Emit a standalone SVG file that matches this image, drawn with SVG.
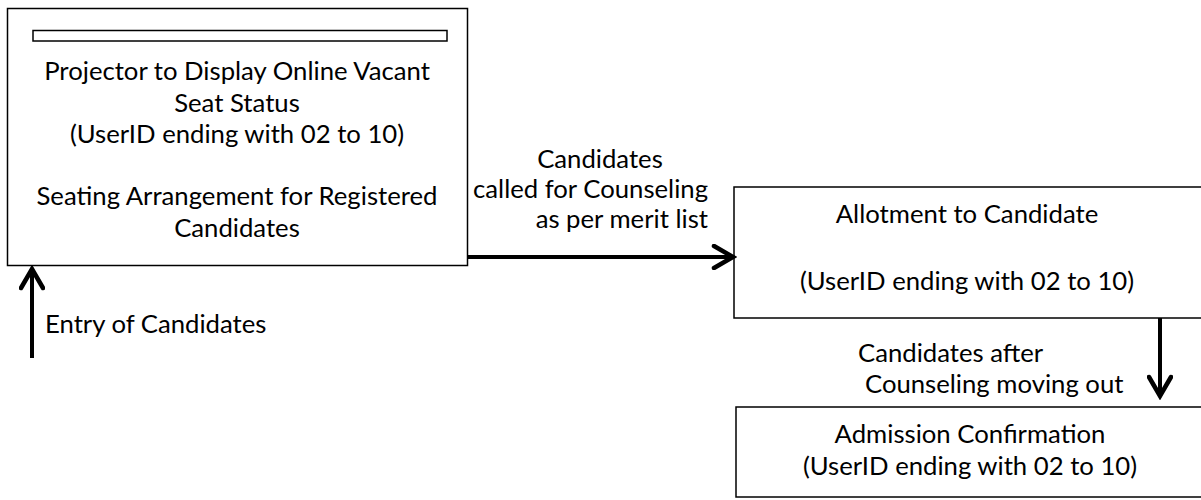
<svg xmlns="http://www.w3.org/2000/svg" width="1201" height="500" viewBox="0 0 1201 500">
<style>
.box{fill:#fff;stroke:#000;stroke-width:1.5}
.t{font-family:Lato,"Liberation Sans",sans-serif;font-size:25.7px;fill:#000}
.c{text-anchor:middle}
.e{text-anchor:end}
.conn{stroke:#000;stroke-width:4;fill:none}
</style>
<defs>
<marker id="arr" viewBox="0 0 26 26" refX="22" refY="13" markerWidth="26" markerHeight="26" orient="auto" markerUnits="userSpaceOnUse">
<path d="M3,2 L22,13 L3,24" fill="none" stroke="#000" stroke-width="4.5" stroke-linecap="round" stroke-linejoin="miter"/>
</marker>
</defs>
<rect width="1201" height="500" fill="#fff"/>
<g id="node-projector">
<rect class="box" x="7.5" y="8.5" width="460" height="257"/>
<rect class="box" x="33" y="30.5" width="414" height="10.5" stroke-width="1.2"/>
<text class="t c" x="237" y="80">Projector to Display Online Vacant</text>
<text class="t c" x="237" y="112">Seat Status</text>
<text class="t c" x="237" y="143">(UserID ending with 02 to 10)</text>
<text class="t c" x="237" y="205">Seating Arrangement for Registered</text>
<text class="t c" x="237" y="237">Candidates</text>
</g>
<g id="node-allotment">
<rect class="box" x="734" y="187" width="470" height="131"/>
<text class="t c" x="967" y="223">Allotment to Candidate</text>
<text class="t c" x="967" y="290">(UserID ending with 02 to 10)</text>
</g>
<g id="node-admission">
<rect class="box" x="736" y="407" width="470" height="90"/>
<text class="t c" x="970" y="443">Admission Confirmation</text>
<text class="t c" x="970" y="475">(UserID ending with 02 to 10)</text>
</g>
<g id="connectors">
<line class="conn" x1="468" y1="257" x2="733" y2="257" marker-end="url(#arr)"/>
<line class="conn" x1="1160" y1="318" x2="1160" y2="396" marker-end="url(#arr)"/>
<line class="conn" x1="32" y1="358" x2="32" y2="269" marker-end="url(#arr)"/>
<text class="t c" x="600" y="168">Candidates</text>
<text class="t e" x="708" y="198">called for Counseling</text>
<text class="t e" x="708" y="228">as per merit list</text>
<text class="t" x="858" y="362">Candidates after</text>
<text class="t" x="865" y="393">Counseling moving out</text>
<text class="t" x="45" y="333">Entry of Candidates</text>
</g>
</svg>
